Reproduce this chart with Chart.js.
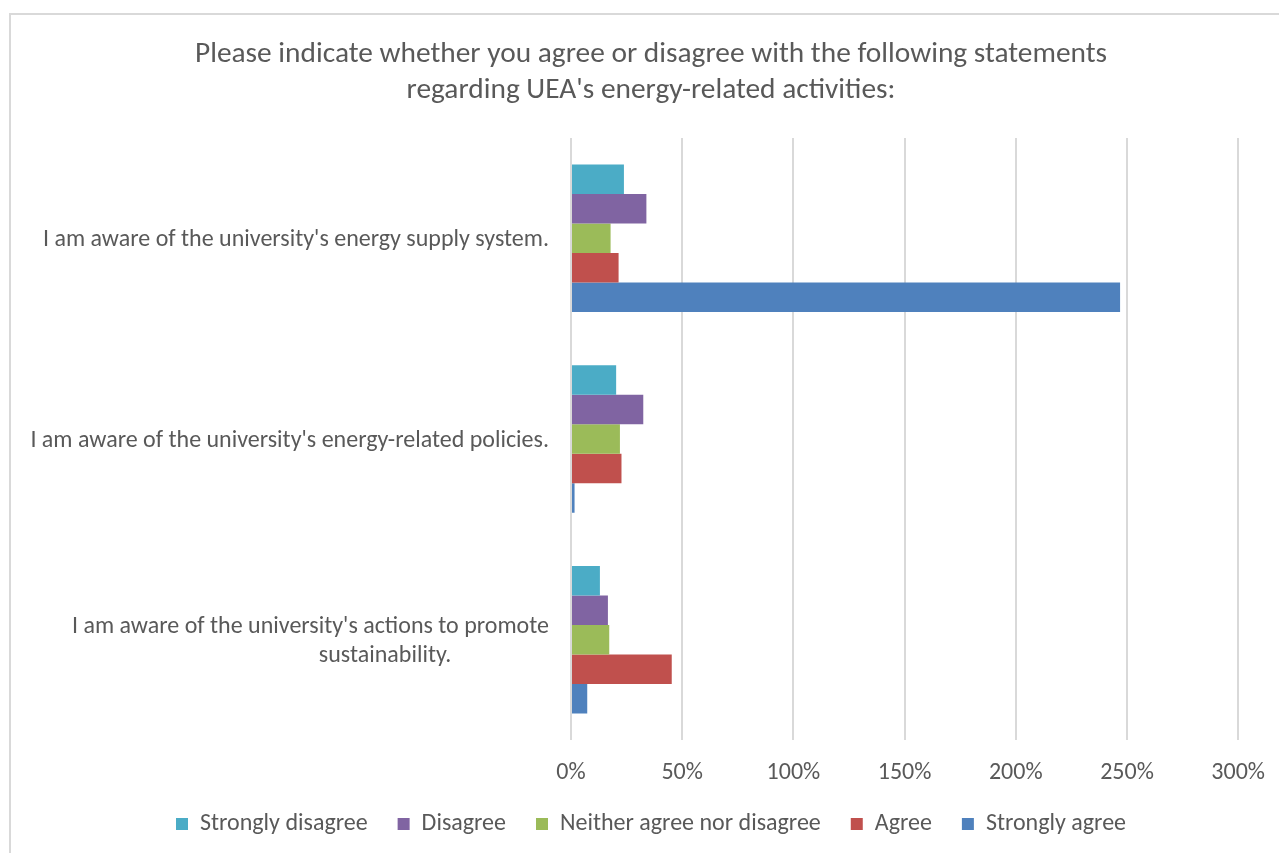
<!DOCTYPE html>
<html>
<head>
<meta charset="utf-8">
<script src="https://cdn.jsdelivr.net/npm/chart.js@4.4.0/dist/chart.umd.min.js"></script>
<style>
  html, body { margin: 0; padding: 0; background: #ffffff; overflow: hidden; }
  #wrap { position: absolute; left: 0; top: 0; width: 1279px; height: 853px; overflow: hidden; }
  #frame { position: absolute; left: 9px; top: 13px; width: 2000px; height: 2000px;
           border-left: 2px solid #d9d9d9; border-top: 2px solid #d9d9d9; pointer-events: none; }
</style>
</head>
<body>
<div id="wrap"><canvas id="c" width="1284" height="853"></canvas></div>
<div id="frame"></div>
<script>
const titleLines = ["Please indicate whether you agree or disagree with the following statements", "regarding UEA's energy-related activities:"];
const categories = [
  "I am aware of the university's energy supply system.",
  "I am aware of the university's energy-related policies.",
  ["I am aware of the university's actions to promote", "sustainability." + "\u00a0".repeat(18)]
];
const seriesNames = ["Strongly disagree", "Disagree", "Neither agree nor disagree", "Agree", "Strongly agree"];
const stronglyDisagree = [23.8, 20.3, 13.0];
const disagree = [33.9, 32.5, 16.6];
const neither = [17.8, 22.0, 17.2];
const agree = [21.4, 22.7, 45.3];
const stronglyAgree = [246.9, 1.6, 7.3];
const xTicks = [0, 50, 100, 150, 200, 250, 300];
const colors = ["#4BACC6", "#8064A2", "#9BBB59", "#C0504D", "#4F81BD"];

const FONT = "Carlito, Calibri, Lato, sans-serif";
const seriesValues = [stronglyDisagree, disagree, neither, agree, stronglyAgree];

new Chart(document.getElementById('c'), {
  type: 'bar',
  data: {
    labels: categories,
    datasets: seriesNames.map((n, i) => ({
      label: n,
      data: seriesValues[i],
      backgroundColor: colors[i],
      borderWidth: 0,
      categoryPercentage: 0.735,
      barPercentage: 1.0
    }))
  },
  options: {
    indexAxis: 'y',
    responsive: false,
    animation: false,
    layout: { padding: { left: 18, right: 0, top: 0, bottom: 7 } },
    plugins: {
      title: {
        display: true,
        text: titleLines,
        color: '#595959',
        font: { family: FONT, size: 29.4, weight: 'normal', lineHeight: 1.2 },
        padding: { top: 37.5, bottom: 29.9 }
      },
      legend: {
        position: 'bottom',
        labels: {
          color: '#595959',
          font: { family: FONT, size: 24 },
          boxWidth: 12,
          boxHeight: 12,
          padding: 30
        }
      },
      tooltip: { enabled: false }
    },
    scales: {
      x: {
        min: 0, max: 300,
        afterBuildTicks: (s) => { s.ticks = xTicks.map(v => ({ value: v })); },
        afterFit: (s) => { s.height = 42; },
        ticks: {
          color: '#595959',
          font: { family: FONT, size: 24 },
          padding: 19,
          callback: (v) => v + '%'
        },
        grid: { color: '#d9d9d9', lineWidth: 2, drawTicks: false },
        border: { display: false }
      },
      y: {
        afterFit: (s) => { s.width = 553; },
        ticks: {
          color: '#595959',
          font: { family: FONT, size: 24, lineHeight: 1.2 },
          padding: 22,
          labelOffset: 2
        },
        grid: { display: false, drawTicks: false },
        border: { display: false }
      }
    }
  }
});
</script>
</body>
</html>
